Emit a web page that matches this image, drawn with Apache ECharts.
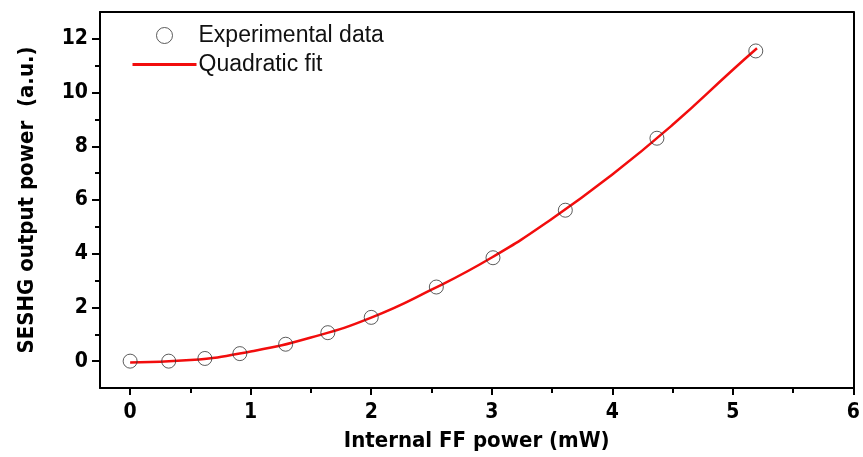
<!DOCTYPE html>
<html><head><meta charset="utf-8">
<script src="https://cdn.jsdelivr.net/npm/echarts@6/dist/echarts.min.js"></script>
<style>html,body{margin:0;padding:0;background:#fff}#c{width:863px;height:457px}</style>
</head><body><div id="c"></div>
<script>
var expX = [0, 0.32, 0.62, 0.91, 1.29, 1.64, 2.0, 2.54, 3.01, 3.61, 4.37, 5.19];
var expY = [0.0, 0.0, 0.1, 0.28, 0.63, 1.06, 1.63, 2.76, 3.85, 5.62, 8.3, 11.55];
// Quadratic fit curve
var fitX = [0, 0.5, 1, 1.5, 2, 2.5, 3, 3.5, 4, 4.5, 5, 5.2];
var fitY = [-0.05, 0.04, 0.36, 0.88, 1.62, 2.66, 3.86, 5.3, 6.95, 8.8, 10.85, 11.65];
var xTicks = [0, 1, 2, 3, 4, 5, 6];
var xMinorTicks = [0.5, 1.5, 2.5, 3.5, 4.5, 5.5];
var yTicks = [0, 2, 4, 6, 8, 10, 12];
var yMinorTicks = [1, 3, 5, 7, 9, 11];

var FONT = '"DejaVu Sans Condensed","Liberation Sans Narrow","Arial Narrow",sans-serif';
var XMIN = -0.25, XMAX = 6, YMIN = -1, YMAX = 13;
var chart = echarts.init(document.getElementById('c'), null, {renderer: 'canvas'});
function hiddenAxis(extra) {
  return Object.assign({
    type: 'value', offset: 0,
    axisLine: {show: false, onZero: false},
    axisLabel: {show: false}, splitLine: {show: false}
  }, extra);
}
chart.setOption({
  backgroundColor: '#fff',
  animation: false,
  grid: {left: 100, right: 4, top: 12, bottom: 68, containLabel: false},
  legend: {
    left: 126, top: 19, orient: 'vertical', itemGap: 6, itemWidth: 64, itemHeight: 16,
    textStyle: {fontFamily: '"Liberation Sans",Arial,sans-serif', fontSize: 23, color: '#111', padding: [0, 0, 0, -3]},
    data: [
      {name: 'Experimental data', icon: 'circle', itemStyle: {color: 'rgba(0,0,0,0)', borderColor: '#333', borderWidth: 1}},
      {name: 'Quadratic fit', itemStyle: {color: 'rgba(0,0,0,0)', borderColor: 'rgba(0,0,0,0)', borderWidth: 0, opacity: 0},
        lineStyle: {color: '#f20d0d', width: 3}}
    ]
  },
  xAxis: [{
    type: 'value', min: XMIN, max: XMAX,
    axisLine: {onZero: false, lineStyle: {color: '#000', width: 2}},
    axisTick: {show: true, inside: false, length: 7, customValues: xTicks, lineStyle: {color: '#000', width: 2}},
    splitLine: {show: false},
    axisLabel: {customValues: xTicks, margin: 14, fontFamily: FONT, fontWeight: 'bold', fontSize: 21, color: '#000'},
    name: 'Internal FF power (mW)', nameLocation: 'middle', nameGap: 42,
    nameTextStyle: {fontFamily: FONT, fontWeight: 'bold', fontSize: 22, color: '#000'}
  }, {
    type: 'value', position: 'top', min: XMIN, max: XMAX,
    axisLine: {onZero: false, lineStyle: {color: '#000', width: 2}},
    axisTick: {show: false}, axisLabel: {show: false}, splitLine: {show: false}
  }, hiddenAxis({
    position: 'bottom', min: XMIN, max: XMAX,
    axisTick: {show: true, inside: false, length: 5, customValues: xMinorTicks, lineStyle: {color: '#000', width: 2}}
  })],
  yAxis: [{
    type: 'value', min: YMIN, max: YMAX,
    axisLine: {onZero: false, lineStyle: {color: '#000', width: 2}},
    axisTick: {show: true, inside: false, length: 8, customValues: yTicks, lineStyle: {color: '#000', width: 2}},
    splitLine: {show: false},
    axisLabel: {customValues: yTicks, margin: 12, fontFamily: FONT, fontWeight: 'bold', fontSize: 21, color: '#000'},
    name: 'SESHG output power  (a.u.)', nameLocation: 'middle', nameGap: 62,
    nameTextStyle: {fontFamily: FONT, fontWeight: 'bold', fontSize: 22, color: '#000'}
  }, {
    type: 'value', position: 'right', min: YMIN, max: YMAX,
    axisLine: {onZero: false, lineStyle: {color: '#000', width: 2}},
    axisTick: {show: false}, axisLabel: {show: false}, splitLine: {show: false}
  }, hiddenAxis({
    position: 'left', min: YMIN, max: YMAX,
    axisTick: {show: true, inside: false, length: 5, customValues: yMinorTicks, lineStyle: {color: '#000', width: 2}}
  })],
  series: [{
    name: 'Quadratic fit', type: 'line', smooth: true, symbol: 'none', showSymbol: false, z: 2,
    lineStyle: {color: '#f20d0d', width: 2.5}, itemStyle: {color: '#f20d0d'},
    data: fitX.map(function (x, i) { return [x, fitY[i]]; })
  }, {
    name: 'Experimental data', type: 'scatter', symbol: 'circle', symbolSize: 14, z: 3,
    itemStyle: {color: 'rgba(0,0,0,0)', borderColor: '#333', borderWidth: 1},
    data: expX.map(function (x, i) { return [x, expY[i]]; })
  }]
});
</script></body></html>
